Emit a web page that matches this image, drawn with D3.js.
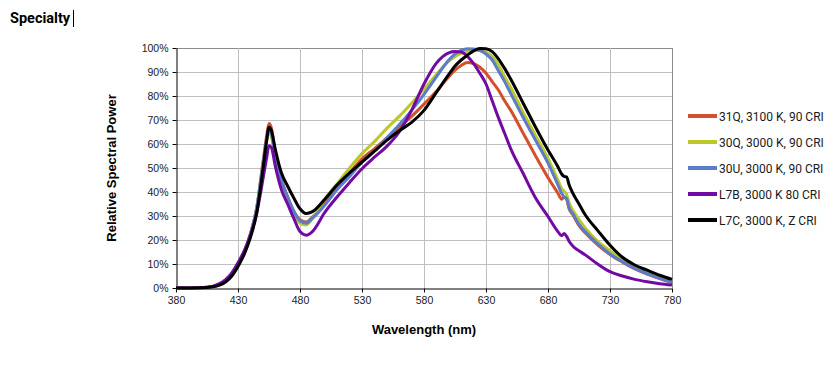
<!DOCTYPE html>
<html>
<head>
<meta charset="utf-8">
<script src="https://cdn.jsdelivr.net/npm/d3@7"></script>
<style>
body { margin: 0; background: #fff; }
svg { display: block; }
</style>
</head>
<body>
<svg id="chart" width="840" height="375"></svg>
<script>
// wavelength samples (nm)
var wavelengths = [380, 400, 410, 415, 420, 425, 430, 435, 440, 445,
                   450, 453, 455, 457, 460, 465, 470, 475, 480, 485,
                   490, 500, 510, 520, 530, 540, 550, 560, 570, 580,
                   590, 600, 605, 610, 615, 620, 625, 630, 635, 640,
                   645, 650, 660, 670, 680, 688, 691, 693, 695, 697,
                   700, 705, 710, 720, 730, 740, 750, 760, 770, 780];

var seriesNames = ["31Q, 3100 K, 90 CRI", "30Q, 3000 K, 90 CRI", "30U, 3000 K, 90 CRI", "L7B, 3000 K 80 CRI", "L7C, 3000 K, Z CRI"];
var seriesColors = ["#d4502a", "#bcc829", "#5b7bcb", "#7209a3", "#000000"];

// relative spectral power (%)
var s31Q = [0, 0.1, 0.6, 1.4, 3, 5.8, 10, 15, 22.5, 33,
            52, 63, 68.5, 66.5, 56, 45, 38, 32, 28.5, 27.5,
            29.5, 35.5, 42, 48, 53.8, 58, 62.5, 67, 71.5, 76.6,
            82, 88, 90.8, 92.7, 94, 93.5, 92, 89.5, 86, 82.5,
            78, 74, 64.5, 55, 46, 39.5, 37, 37.8, 37, 33,
            30.5, 26, 23, 18, 14, 10.8, 8, 5.8, 3.9, 2.2];
var s30Q = [0, 0.1, 0.6, 1.4, 3, 5.8, 10, 15, 22.5, 33,
            50.5, 60.5, 65, 63, 54, 44, 37, 30.5, 27, 26.3,
            29, 37, 43.5, 50, 56, 61, 66.5, 71.5, 77, 82.8,
            89, 94.5, 96.5, 97.8, 98.6, 99, 99, 98.3, 96.5, 93,
            88, 83.5, 73, 63.5, 54, 45, 41.5, 40.3, 39, 35.5,
            32.4, 28.5, 25, 19.5, 15.5, 11.8, 8.8, 6.5, 4.5, 2.8];
var s30U = [0, 0.1, 0.6, 1.4, 3, 5.8, 10, 15, 22.5, 33,
            51, 61.5, 66, 64, 55, 45, 38, 32, 28, 27,
            29, 34.5, 41, 46.5, 52.4, 57, 62.5, 68, 74, 80.7,
            88, 95, 97.5, 99, 99.7, 99.6, 99, 97.5, 95, 90.5,
            86, 81, 71, 61.5, 52, 43, 39.5, 38, 37.3, 33.5,
            31, 26.5, 23.5, 18.5, 14.2, 11, 8.2, 6, 4, 2.3];
var sL7B = [0, 0.15, 0.8, 1.8, 3.5, 6.3, 10.5, 15.5, 22, 31,
            45, 54, 59.3, 58.5, 51, 41, 35, 29, 23.5, 22,
            23.5, 31.5, 38, 44, 49.7, 54.5, 59, 65, 74, 85,
            93.7, 98, 98.5, 98.3, 96.5, 93.5, 89.5, 85, 78, 71,
            64.5, 58, 47.7, 37.5, 29.8, 23.5, 21.8, 22.7, 21.5, 19.5,
            17.5, 15.5, 13.8, 10, 6.8, 5, 3.6, 2.6, 1.8, 1.25];
var sL7C = [0, 0.1, 0.5, 1.2, 2.5, 5, 9, 14, 21, 31,
            49, 61, 67, 65.5, 58, 48, 42.5, 37.5, 33, 31,
            31.8, 37, 43, 48, 52.5, 57, 61.5, 65.5, 69, 74,
            81.5, 89, 92.5, 95, 97, 98.8, 99.8, 99.7, 98.5, 95.5,
            91.5, 87, 77, 67, 57.5, 50.5, 47.5, 46.5, 46.3, 43,
            39.5, 35, 30.5, 24, 17.8, 12.8, 9.6, 7.4, 5.3, 3.6];

var xTicks = [380, 430, 480, 530, 580, 630, 680, 730, 780];
var yTicks = [0, 10, 20, 30, 40, 50, 60, 70, 80, 90, 100];

var allSeries = [s31Q, s30Q, s30U, sL7B, sL7C];

var plotLeft = 176, plotRight = 672, plotTop = 48, plotBottom = 288;

var svg = d3.select("#chart");

var xScale = d3.scaleLinear().domain([380, 780]).range([plotLeft, plotRight]);
var yScale = d3.scaleLinear().domain([0, 100]).range([plotBottom, plotTop]);

// title + caret
svg.append("text")
    .attr("x", 10)
    .attr("y", 23)
    .attr("font-family", "Roboto, sans-serif")
    .attr("font-weight", "bold")
    .attr("font-size", 14.5)
    .attr("fill", "#000")
    .text("Specialty");
svg.append("line")
    .attr("x1", 73.5).attr("x2", 73.5)
    .attr("y1", 10).attr("y2", 27)
    .attr("stroke", "#000")
    .attr("stroke-width", 1);

// gridlines
svg.append("g")
    .selectAll("line")
    .data(yTicks.slice(1))
    .enter()
    .append("line")
    .attr("x1", plotLeft).attr("x2", plotRight)
    .attr("y1", d => Math.round(yScale(d)) + 0.5)
    .attr("y2", d => Math.round(yScale(d)) + 0.5)
    .attr("stroke", (d) => d == 100 ? "#8c8c8c" : "#bfbfbf");

svg.append("g")
    .selectAll("line")
    .data(xTicks.slice(1))
    .enter()
    .append("line")
    .attr("x1", d => Math.round(xScale(d)) + 0.5)
    .attr("x2", d => Math.round(xScale(d)) + 0.5)
    .attr("y1", plotTop).attr("y2", plotBottom)
    .attr("stroke", (d) => d == 780 ? "#8c8c8c" : "#bfbfbf");

// axes
var xAxis = d3.axisBottom(xScale).tickValues(xTicks).tickSize(4).tickSizeOuter(0).tickPadding(4);
var yAxis = d3.axisLeft(yScale).tickValues(yTicks).tickSize(4).tickSizeOuter(0).tickPadding(4)
    .tickFormat(d => d + "%");

var gx = svg.append("g")
    .attr("transform", "translate(0," + (plotBottom + 0.5) + ")")
    .call(xAxis);
var gy = svg.append("g")
    .attr("transform", "translate(" + (plotLeft + 0.5) + ",0)")
    .call(yAxis);

[gx, gy].forEach(function (g) {
    g.selectAll("path, line").attr("stroke", "#000");
    g.selectAll("text")
        .attr("font-family", "'Liberation Sans', Arial, sans-serif")
        .attr("font-size", 10.5)
        .attr("fill", "#1a1a1a");
});

// axis titles
svg.append("text")
    .attr("x", (plotLeft + plotRight) / 2)
    .attr("y", 334)
    .attr("text-anchor", "middle")
    .attr("font-family", "'Liberation Sans', Arial, sans-serif")
    .attr("font-weight", "bold")
    .attr("font-size", 13)
    .attr("fill", "#000")
    .text("Wavelength (nm)");

svg.append("text")
    .attr("transform", "translate(116," + (plotTop + plotBottom) / 2 + ") rotate(-90)")
    .attr("text-anchor", "middle")
    .attr("font-family", "'Liberation Sans', Arial, sans-serif")
    .attr("font-weight", "bold")
    .attr("font-size", 13)
    .attr("fill", "#000")
    .text("Relative Spectral Power");

// series lines
var line = d3.line()
    .x((d, i) => xScale(wavelengths[i]))
    .y(d => yScale(d))
    .curve(d3.curveMonotoneX);

svg.append("g")
    .selectAll("path")
    .data(allSeries)
    .enter()
    .append("path")
    .attr("d", d => line(d))
    .attr("fill", "none")
    .attr("stroke", (d, i) => seriesColors[i])
    .attr("stroke-width", 3)
    .attr("stroke-linejoin", "round");

// legend
var legend = svg.append("g")
    .selectAll("g")
    .data(seriesNames)
    .enter()
    .append("g")
    .attr("transform", (d, i) => "translate(688," + (116 + i * 26) + ")");

legend.append("line")
    .attr("x1", 0).attr("x2", 29)
    .attr("stroke", (d, i) => seriesColors[i])
    .attr("stroke-width", 4);

legend.append("text")
    .attr("x", 31)
    .attr("y", 4.5)
    .attr("font-family", "Roboto, sans-serif")
    .attr("font-size", 12)
    .attr("fill", "#1a1a1a")
    .text(d => d);
</script>
</body>
</html>
